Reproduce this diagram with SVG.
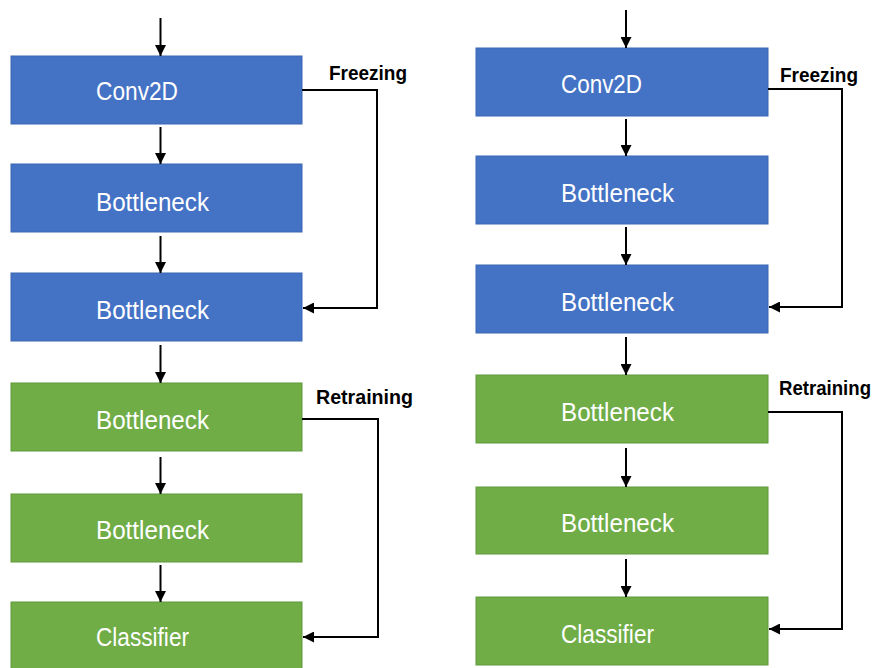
<svg xmlns="http://www.w3.org/2000/svg" width="879" height="668" viewBox="0 0 879 668">
<defs>
<marker id="ah" viewBox="0 0 10 10" refX="10" refY="5" markerWidth="5.5" markerHeight="5.5" orient="auto" markerUnits="strokeWidth">
<path d="M0,0 L10,5 L0,10 Z" fill="#000"/>
</marker>
<style>
.blue{fill:#4472C4;stroke:#3C66B4;stroke-width:1}
.green{fill:#70AD47;stroke:#5E9A38;stroke-width:1}
.lbl{font-family:"Liberation Sans",Arial,sans-serif;font-size:26px;fill:#fff}
.side{font-family:"Liberation Sans",Arial,sans-serif;font-size:21px;font-weight:bold;fill:#000}
.c{fill:none;stroke:#000;stroke-width:2;marker-end:url(#ah)}
</style>
</defs>
<rect width="879" height="668" fill="#fff"/>

<g id="L-conv2d"><rect class="blue" x="11" y="56" width="291" height="68"/><text class="lbl" x="96" y="100" textLength="82" lengthAdjust="spacingAndGlyphs">Conv2D</text></g>
<g id="L-bottleneck1"><rect class="blue" x="11" y="164" width="291" height="68"/><text class="lbl" x="96" y="211" textLength="113" lengthAdjust="spacingAndGlyphs">Bottleneck</text></g>
<g id="L-bottleneck2"><rect class="blue" x="11" y="273" width="291" height="68"/><text class="lbl" x="96" y="319" textLength="113" lengthAdjust="spacingAndGlyphs">Bottleneck</text></g>
<g id="L-bottleneck3"><rect class="green" x="11" y="383" width="291" height="68"/><text class="lbl" x="96" y="429" textLength="113" lengthAdjust="spacingAndGlyphs">Bottleneck</text></g>
<g id="L-bottleneck4"><rect class="green" x="11" y="494" width="291" height="68"/><text class="lbl" x="96" y="539" textLength="113" lengthAdjust="spacingAndGlyphs">Bottleneck</text></g>
<g id="L-classifier"><rect class="green" x="11" y="602" width="291" height="70"/><text class="lbl" x="96" y="646" textLength="93" lengthAdjust="spacingAndGlyphs">Classifier</text></g>

<g id="R-conv2d"><rect class="blue" x="476" y="48" width="292" height="68"/><text class="lbl" x="561" y="93" textLength="81" lengthAdjust="spacingAndGlyphs">Conv2D</text></g>
<g id="R-bottleneck1"><rect class="blue" x="476" y="156" width="292" height="68"/><text class="lbl" x="561" y="202" textLength="113" lengthAdjust="spacingAndGlyphs">Bottleneck</text></g>
<g id="R-bottleneck2"><rect class="blue" x="476" y="265" width="292" height="68"/><text class="lbl" x="561" y="311" textLength="113" lengthAdjust="spacingAndGlyphs">Bottleneck</text></g>
<g id="R-bottleneck3"><rect class="green" x="476" y="375" width="292" height="68"/><text class="lbl" x="561" y="421" textLength="113" lengthAdjust="spacingAndGlyphs">Bottleneck</text></g>
<g id="R-bottleneck4"><rect class="green" x="476" y="487" width="292" height="67"/><text class="lbl" x="561" y="532" textLength="113" lengthAdjust="spacingAndGlyphs">Bottleneck</text></g>
<g id="R-classifier"><rect class="green" x="476" y="597" width="292" height="68"/><text class="lbl" x="561" y="643" textLength="93" lengthAdjust="spacingAndGlyphs">Classifier</text></g>

<g id="labels">
<text class="side" x="329" y="80" textLength="78" lengthAdjust="spacingAndGlyphs">Freezing</text>
<text class="side" x="316" y="404" textLength="97" lengthAdjust="spacingAndGlyphs">Retraining</text>
<text class="side" x="780" y="82" textLength="78" lengthAdjust="spacingAndGlyphs">Freezing</text>
<text class="side" x="779" y="395" font-size="19" textLength="92" lengthAdjust="spacingAndGlyphs">Retraining</text>
</g>

<g id="connectors">
<path class="c" d="M160.5,18 V56"/>
<path class="c" d="M160.5,127 V164"/>
<path class="c" d="M160.5,236 V273"/>
<path class="c" d="M160.5,345 V383"/>
<path class="c" d="M160.5,457 V494"/>
<path class="c" d="M160.5,565 V602"/>
<path class="c" d="M302,90 H377 V308 H303"/>
<path class="c" d="M302,419 H378 V637 H303"/>

<path class="c" d="M626,10 V48"/>
<path class="c" d="M626,119 V156"/>
<path class="c" d="M626,227 V265"/>
<path class="c" d="M626,337 V375"/>
<path class="c" d="M626,448 V487"/>
<path class="c" d="M626,559 V597"/>
<path class="c" d="M768,89 H842 V307 H769"/>
<path class="c" d="M768,412 H842 V629 H769"/>
</g>
</svg>
